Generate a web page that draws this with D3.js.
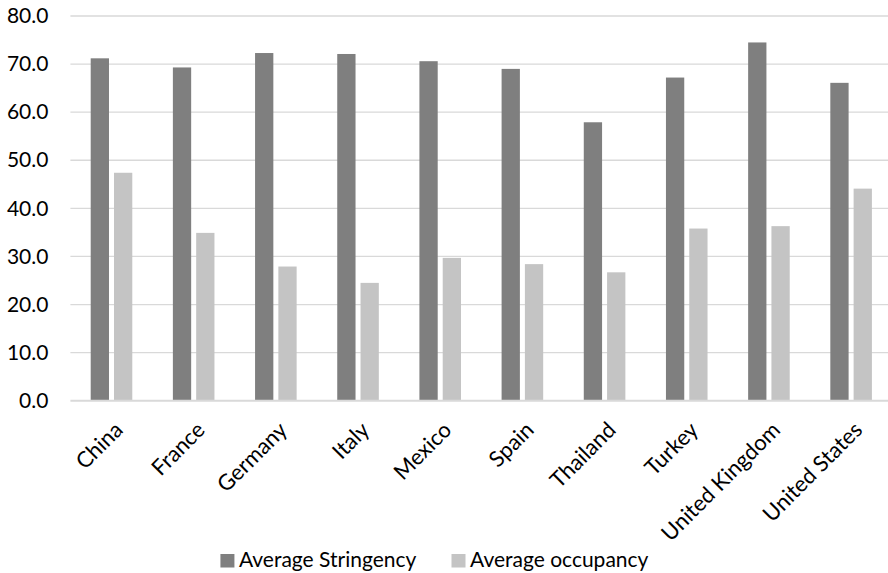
<!DOCTYPE html>
<html>
<head>
<meta charset="utf-8">
<script src="https://cdn.jsdelivr.net/npm/d3@7"></script>
<style>
  html, body { margin: 0; padding: 0; background: #fff; }
  svg { display: block; font-family: Lato, "Open Sans", sans-serif; }
</style>
</head>
<body>
<svg id="chart" width="888" height="573"></svg>
<script>
// Countries on the category axis
const countries = ["China", "France", "Germany", "Italy", "Mexico", "Spain",
                   "Thailand", "Turkey", "United Kingdom", "United States"];
// Series names
const seriesNames = ["Average Stringency", "Average occupancy"];
// Values per country
const stringency = [71.2, 69.3, 72.3, 72.1, 70.6, 69.0, 57.9, 67.2, 74.5, 66.1];
const occupancy  = [47.4, 34.9, 27.9, 24.5, 29.7, 28.4, 26.7, 35.8, 36.3, 44.1];
// Value axis ticks
const yTicks = [0, 10, 20, 30, 40, 50, 60, 70, 80];

const colors = { "Average Stringency": "#7f7f7f", "Average occupancy": "#c4c4c4" };
const textColor = "#000";
const gridColor = "#d9d9d9";

const svg = d3.select("#chart");

const plotLeft = 70.4, plotRight = 892.2, plotTop = 16, plotBottom = 400.7;

const x0 = d3.scaleBand()
  .domain(countries)
  .range([plotLeft, plotRight])
  .paddingInner(0.494)
  .paddingOuter(0.247);

const x1 = d3.scaleBand()
  .domain(seriesNames)
  .range([0, x0.bandwidth()])
  .paddingInner(0.215);

const y = d3.scaleLinear().domain([0, 80]).range([plotBottom, plotTop]);

// Horizontal gridlines
svg.append("g")
  .selectAll("line")
  .data(yTicks.filter(t => t !== 0))
  .join("line")
  .attr("x1", plotLeft).attr("x2", 888)
  .attr("y1", d => y(d)).attr("y2", d => y(d))
  .attr("stroke", gridColor)
  .attr("stroke-width", 1.3);

// Value axis labels
const yAxis = d3.axisLeft(y)
  .tickValues(yTicks)
  .tickFormat(d3.format(".1f"))
  .tickSize(0)
  .tickPadding(22);
svg.append("g")
  .attr("transform", `translate(${plotLeft},0)`)
  .call(yAxis)
  .call(g => g.select(".domain").remove())
  .call(g => g.selectAll("text")
    .attr("fill", textColor)
    .style("font-size", "21px")
    .style("font-family", "Lato, sans-serif"));

// Bars
const rows = countries.map((c, i) => ({
  country: c,
  values: [
    { key: seriesNames[0], value: stringency[i] },
    { key: seriesNames[1], value: occupancy[i] }
  ]
}));

svg.append("g")
  .selectAll("g")
  .data(rows)
  .join("g")
  .attr("transform", d => `translate(${x0(d.country)},0)`)
  .selectAll("rect")
  .data(d => d.values)
  .join("rect")
  .attr("x", d => x1(d.key))
  .attr("width", x1.bandwidth())
  .attr("y", d => y(d.value))
  .attr("height", d => y(0) - y(d.value))
  .attr("fill", d => colors[d.key]);

// Category axis baseline
svg.append("line")
  .attr("x1", plotLeft).attr("x2", 888)
  .attr("y1", y(0)).attr("y2", y(0))
  .attr("stroke", gridColor)
  .attr("stroke-width", 2);

// Rotated category labels
svg.append("g")
  .selectAll("text")
  .data(countries)
  .join("text")
  .attr("transform", d => `translate(${x0(d) + x0.bandwidth() / 2 + 1},${plotBottom + 19}) rotate(-45)`)
  .attr("text-anchor", "end")
  .attr("dy", "0.75em")
  .attr("fill", textColor)
  .style("font-size", "22px")
  .text(d => d);

// Legend
const legend = svg.append("g");
const items = legend.selectAll("g")
  .data(seriesNames)
  .join("g");
items.append("rect")
  .attr("width", 14).attr("height", 13.5)
  .attr("y", 554)
  .attr("fill", d => colors[d]);
items.append("text")
  .attr("x", 18.5)
  .attr("y", 567.3)
  .attr("fill", textColor)
  .style("font-size", "21px")
  .text(d => d);

let cursor = 0;
const gap = 35;
items.each(function () {
  const w = this.getBBox().width;
  d3.select(this).attr("transform", `translate(${cursor},0)`);
  cursor += w + gap;
});
const legendWidth = cursor - gap;
legend.attr("transform", `translate(${434.5 - legendWidth / 2},0)`);
</script>
</body>
</html>
